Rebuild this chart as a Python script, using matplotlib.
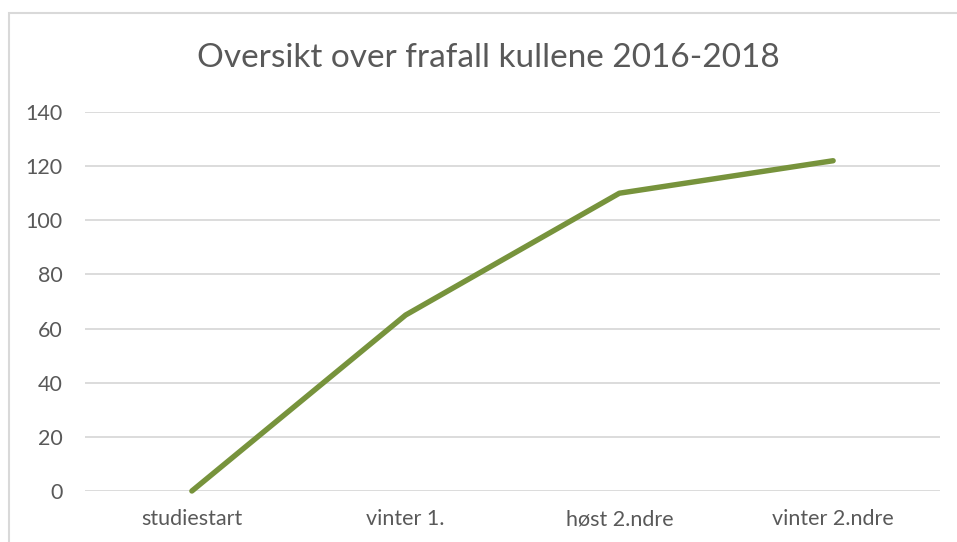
import matplotlib.pyplot as plt
from matplotlib.patches import Rectangle

# Data
categories = ['studiestart', 'vinter 1.', 'høst 2.ndre', 'vinter 2.ndre']
frafall = [0, 65, 110, 122]
y_ticks = [0, 20, 40, 60, 80, 100, 120, 140]

plt.rcParams['font.family'] = ['Lato', 'DejaVu Sans']
text_color = '#595959'

W, H = 957, 542
fig = plt.figure(figsize=(W / 100, H / 100), dpi=100)

# light gray outer frame (chart area border)
fig.patches.append(Rectangle((9 / W, -0.1), 1.2, (H - 13) / H + 0.1,
                             transform=fig.transFigure, fill=False,
                             edgecolor='#d9d9d9', linewidth=1.5))

ax = fig.add_axes([85 / W, 51 / H, (940 - 85) / W, (491 - 112) / H])
x = range(len(categories))
ax.plot(x, frafall, color='#77933c', linewidth=3.9, solid_capstyle='round',
        clip_on=False)

ax.set_xlim(-0.5, len(categories) - 0.5)
ax.set_ylim(0, 140)
ax.set_yticks(y_ticks)
ax.set_xticks(list(x))
ax.set_xticklabels(categories)
ax.grid(axis='y', color='#d9d9d9', linewidth=1.3)
ax.set_axisbelow(True)
for s in ax.spines.values():
    s.set_visible(False)
ax.tick_params(length=0, labelsize=15.5, colors=text_color)
ax.tick_params(axis='y', pad=16)
ax.tick_params(axis='x', pad=13)
for lbl in ax.get_yticklabels():
    lbl.set_horizontalalignment('right')

fig.text(488 / W, 1 - 58 / H, 'Oversikt over frafall kullene 2016-2018',
         ha='center', va='center', fontsize=24, color=text_color)

fig.savefig('out.png', dpi=100)
